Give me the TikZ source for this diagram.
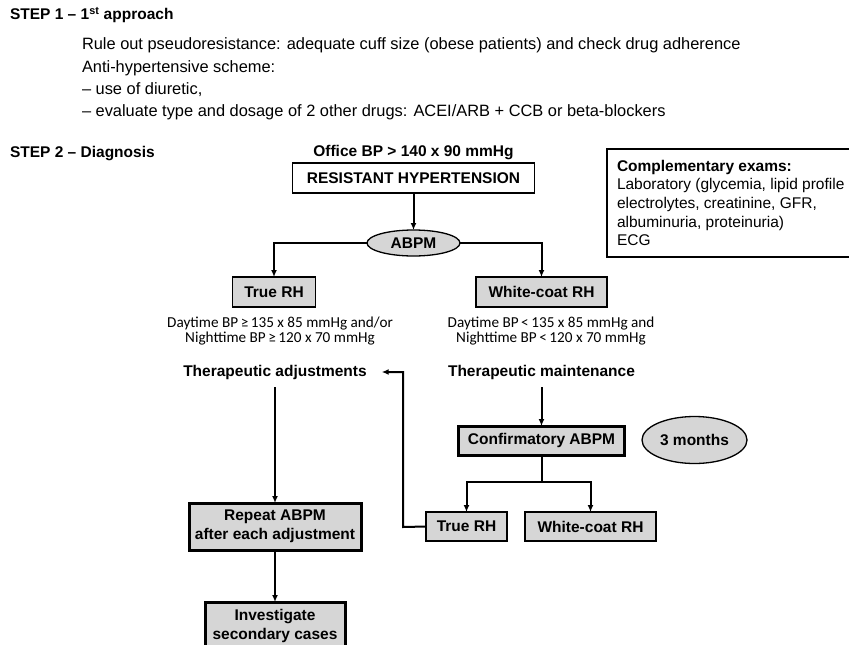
\documentclass[tikz,border=0pt]{standalone}
\usepackage{fontspec}
\setmainfont{Liberation Sans}
\newfontfamily\dayfont{Carlito}
\usetikzlibrary{arrows.meta,shapes.geometric}
\definecolor{boxgray}{HTML}{D6D6D6}
\begin{document}
\begin{tikzpicture}[x=1pt,y=-1pt,
  every node/.style={inner sep=0pt,outer sep=0pt},
  bold/.style={font=\fontsize{15.5}{19}\selectfont\bfseries},
  plain/.style={font=\fontsize{16.4}{18}\selectfont,anchor=west},
  day/.style={font=\dayfont\fontsize{15.2}{15.5}\selectfont,align=center},
  whitebox/.style={bold,draw=black,line width=1.3pt,fill=white},
  thinbox/.style={bold,draw=black,line width=1.3pt,fill=boxgray},
  thickbox/.style={bold,draw=black,line width=3pt,fill=boxgray,align=center},
  oval/.style={bold,ellipse,draw=black,line width=1.3pt,fill=boxgray},
  conn/.style={line width=2pt,-{Latex[length=7pt,width=6pt]}},
  seg/.style={line width=2pt}]
\clip (0,0) rectangle (849,645);
\fill[white] (0,0) rectangle (849,645);

% STEP 1
\node[bold,anchor=west] (s1) at (10,15) {STEP 1 -- 1\textsuperscript{st} approach};
\node[plain] (l1) at (82,45) {Rule out pseudoresistance: adequate cuff size (obese patients) and check drug adherence};
\node[plain] (l2) at (82,68) {Anti-hypertensive scheme:};
\node[plain] (l3) at (82,90) {-- use of diuretic,};
\node[plain] (l4) at (82,112) {-- evaluate type and dosage of 2 other drugs: ACEI/ARB + CCB or beta-blockers};

% STEP 2
\node[bold,anchor=west] (s2) at (10,154) {STEP 2 -- Diagnosis};
\node[bold] (office) at (413.5,153) {Office BP > 140 x 90 mmHg};
\node[whitebox,minimum width=242pt,minimum height=30pt] (rh) at (413.5,178) {RESISTANT HYPERTENSION};
\node[oval,minimum width=93pt,minimum height=26pt] (abpm) at (413.5,243) {ABPM};

\node[thinbox,line width=1.6pt,minimum width=83pt,minimum height=30pt] (true1) at (274,292) {True RH};
\node[thinbox,line width=1.6pt,minimum width=131pt,minimum height=30pt] (wc1) at (541.5,292) {White-coat RH};

\node[day] (dayl) at (280,331) {Daytime BP\,≥\,135 x 85 mmHg and/or\\Nighttime BP\,≥\,120 x 70 mmHg};
\node[day] (dayr) at (551,331) {Daytime BP\,<\,135 x 85 mmHg and\\Nighttime BP\,<\,120 x 70 mmHg};

\node[bold] (adj) at (275,372) {Therapeutic adjustments};
\node[bold] (maint) at (541.5,372) {Therapeutic maintenance};

\node[thickbox,minimum width=166pt,minimum height=29pt] (conf) at (541.5,440.5) {Confirmatory ABPM};
\node[oval,minimum width=105pt,minimum height=47pt] (three) at (694.5,440) {3 months};

\node[thinbox,minimum width=81pt,minimum height=29pt] (true2) at (466.5,526.5) {True RH};
\node[thinbox,minimum width=131pt,minimum height=29pt] (wc2) at (590.5,526.5) {White-coat RH};

\node[thickbox,minimum width=172pt,minimum height=47pt] (rep) at (275,526.5) {Repeat ABPM\\after each adjustment};
\node[thickbox,minimum width=140pt,minimum height=48pt] (inv) at (275,626) {Investigate\\secondary cases};

% complementary exams
\node[draw=black,line width=1.3pt,fill=white,minimum width=260pt,minimum height=108pt,anchor=north west] (compbox) at (607,149) {};
\node[font=\fontsize{15.5}{18.6}\selectfont,align=left,anchor=north west] (comp) at (617,160)
  {\textbf{Complementary exams:}\\Laboratory (glycemia, lipid profile\\electrolytes, creatinine, GFR,\\albuminuria, proteinuria)\\ECG};

% connectors
\draw[conn] (rh.south) -- (abpm.north);
\draw[conn] (abpm.west) -| (true1.north);
\draw[conn] (abpm.east) -| (wc1.north);
\draw[conn,shorten <=8pt] (maint.south) -- (conf.north);
\coordinate (split) at (541.5,482);
\draw[seg] (conf.south) -- (split);
\draw[conn] (split) -| (true2.north);
\draw[conn] (split) -| (wc2.north);
\coordinate (fbx) at (403,527);
\coordinate (adjin) at ([xshift=15pt]adj.east);
\draw[conn] (true2.west) -- (fbx) |- (adjin);
\draw[conn,shorten <=8pt] (adj.south) -- (rep.north);
\draw[conn] (rep.south) -- (inv.north);
\end{tikzpicture}
\end{document}
